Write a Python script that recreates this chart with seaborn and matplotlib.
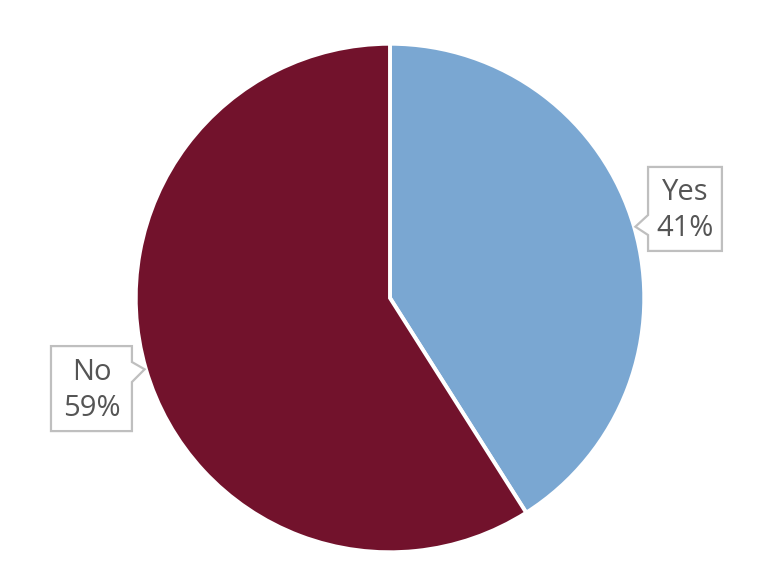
import numpy as np
import seaborn as sns
import matplotlib.pyplot as plt
from matplotlib.patches import Polygon

# data
labels = ["Yes", "No"]
shares = [41, 59]
colors = ["#7AA7D2", "#72122C"]

sns.set_theme(style="white")
plt.rcParams['font.family'] = ['Open Sans', 'DejaVu Sans']

fig = plt.figure(figsize=(7.6, 5.86), dpi=100)
ax = fig.add_axes([0, 0, 1, 1])

wedges, _ = ax.pie(shares, colors=colors, startangle=90, counterclock=False,
                   radius=1.005, center=(0, 0),
                   wedgeprops=dict(edgecolor="white", linewidth=2.8))
ax.set_xlim(-1.5415, 1.4625)
ax.set_ylim(-1.1383, 1.1779)
ax.set_aspect("auto")
ax.axis("off")


def callout(text, box, tip, base_y, side):
    # box = (x0, x1, y0, y1), pointer on left or right edge
    x0, x1, y0, y1 = box
    b0, b1 = base_y
    if side == "left":
        pts = [(x0, y0), (x1, y0), (x1, y1), (x0, y1), (x0, b1), tip, (x0, b0)]
    else:
        pts = [(x0, y0), (x1, y0), (x1, b0), tip, (x1, b1), (x1, y1), (x0, y1)]
    ax.add_patch(Polygon(pts, closed=True, facecolor="white",
                         edgecolor="#BFBFBF", linewidth=1.6, zorder=5))
    ax.text((x0 + x1) / 2, (y0 + y1) / 2 - 0.008, text, ha="center", va="center",
            fontsize=21, color="#555555", linespacing=1.32, zorder=6)


# label tips sit just outside each wedge at its mid angle
angles = []
start = 90
for s in shares:
    angles.append(np.deg2rad(start - s * 3.6 / 2))
    start -= s * 3.6

t = angles[0]
callout(f"{labels[0]}\n{shares[0]}%", (1.020, 1.312, 0.186, 0.518),
        (1.01 * np.cos(t), 1.01 * np.sin(t)), (0.249, 0.328), "left")
t = angles[1]
callout(f"{labels[1]}\n{shares[1]}%", (-1.340, -1.020, -0.526, -0.190),
        (1.01 * np.cos(t), 1.01 * np.sin(t)), (-0.332, -0.253), "right")

fig.savefig("out.png", dpi=100)
